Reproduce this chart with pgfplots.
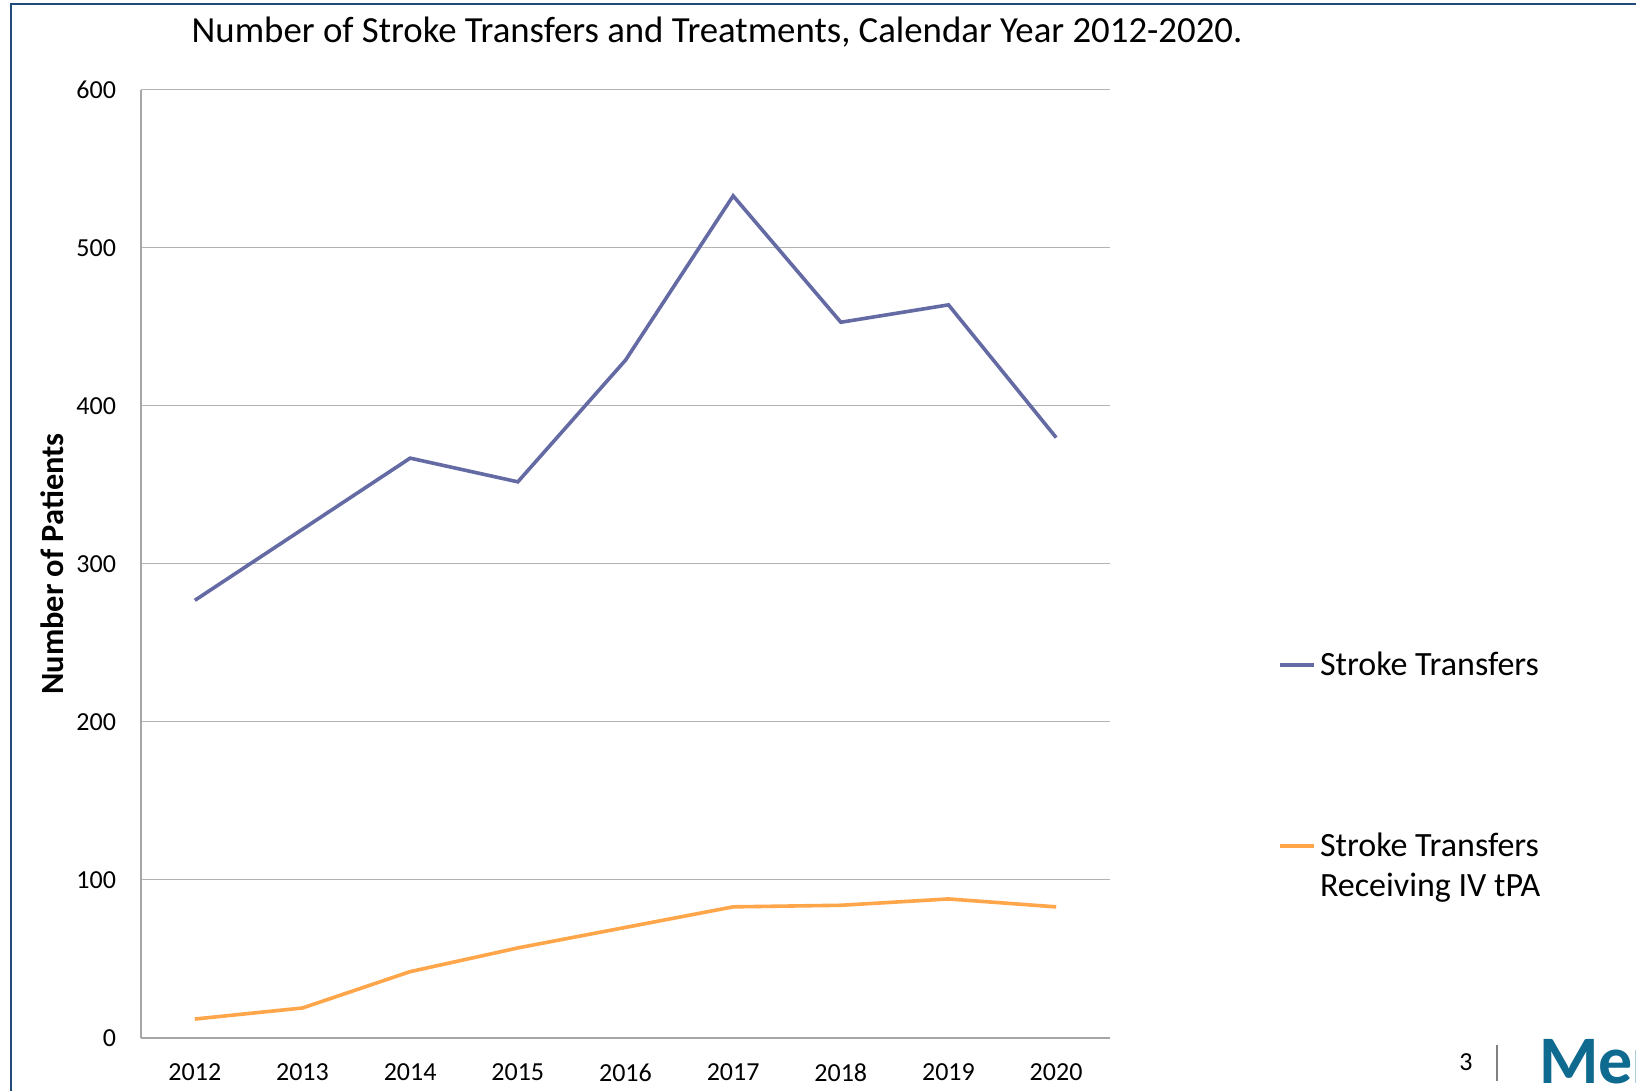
\documentclass[border=0pt]{standalone}
\usepackage{pgfplots}
\pgfplotsset{compat=1.18}
\usepackage{fontspec}
\setmainfont{Carlito}
\definecolor{transfers}{HTML}{646AA3}
\definecolor{tpa}{HTML}{FFA54A}
\definecolor{framecol}{HTML}{1F4A7A}
\definecolor{logo}{HTML}{0E6A8F}

\begin{document}
\begin{tikzpicture}
  % slide page, 1636 x 1091 px at 0.5pt per px
  \clip (0,0) rectangle (818pt,545.5pt);
  \fill[white] (0,0) rectangle (818pt,545.5pt);
  \draw[framecol, line width=1.2pt] (5.5pt,0) -- (5.5pt,543.5pt) -- (818pt,543.5pt);

  \node[font=\fontsize{18.4}{21}\selectfont] at (358.5pt,529.5pt)
    {Number of Stroke Transfers and Treatments, Calendar Year 2012-2020.};

  \begin{axis}[
      at={(70.5pt,26.5pt)}, anchor=south west,
      scale only axis,
      width=484.5pt, height=474pt,
      xmin=2011.5, xmax=2020.5,
      ymin=0, ymax=600,
      xtick={2012,...,2020},
      ytick={0,100,...,600},
      xticklabel style={/pgf/number format/1000 sep={}, yshift=-9.5pt},
      yticklabel style={xshift=-9pt},
      tick label style={font=\fontsize{13}{15}\selectfont},
      /pgf/number format/assume math mode=true,
      major tick length=0pt,
      axis lines=left,
      axis line style={gray!70, line width=0.6pt, -},
      ymajorgrids=true,
      grid style={gray!60, line width=0.5pt},
      ylabel={\bfseries Number of Patients},
      ylabel style={font=\fontsize{16.2}{18}\selectfont,
        at={(axis description cs:-0.0918,0.5)}, anchor=center},
      legend style={draw=none, fill=none,
        font=\fontsize{17}{21}\selectfont,
        at={(axis description cs:1.1734,0.4125)}, anchor=north west,
        cells={anchor=base west}, row sep=73pt, inner sep=0pt},
      legend cell align=left,
      legend image code/.code={
        \path (0pt,-2pt) (0pt,8pt);
        \draw[#1, line width=1.8pt] (0pt,0pt) -- (17pt,0pt);},
    ]
    \addplot[transfers, line width=1.8pt] coordinates {
      (2012,277) (2013,322) (2014,367) (2015,352) (2016,429)
      (2017,533) (2018,453) (2019,464) (2020,380)};
    \addlegendentry{Stroke Transfers}
    \addplot[tpa, line width=1.8pt] coordinates {
      (2012,12) (2013,19) (2014,42) (2015,57) (2016,70)
      (2017,83) (2018,84) (2019,88) (2020,83)};
    \addlegendentry{\parbox[t]{120pt}{Stroke Transfers\\[-1pt]Receiving IV tPA}}
  \end{axis}

  \node[font=\fontsize{13}{15}\selectfont] at (733pt,14.5pt) {3};
  \draw[gray, line width=1.2pt] (748.5pt,5pt) -- (748.5pt,23pt);
  \node[font=\fontsize{34}{38}\selectfont\bfseries, text=logo, anchor=base west]
    at (766pt,4pt) {Mer};
\end{tikzpicture}
\end{document}
